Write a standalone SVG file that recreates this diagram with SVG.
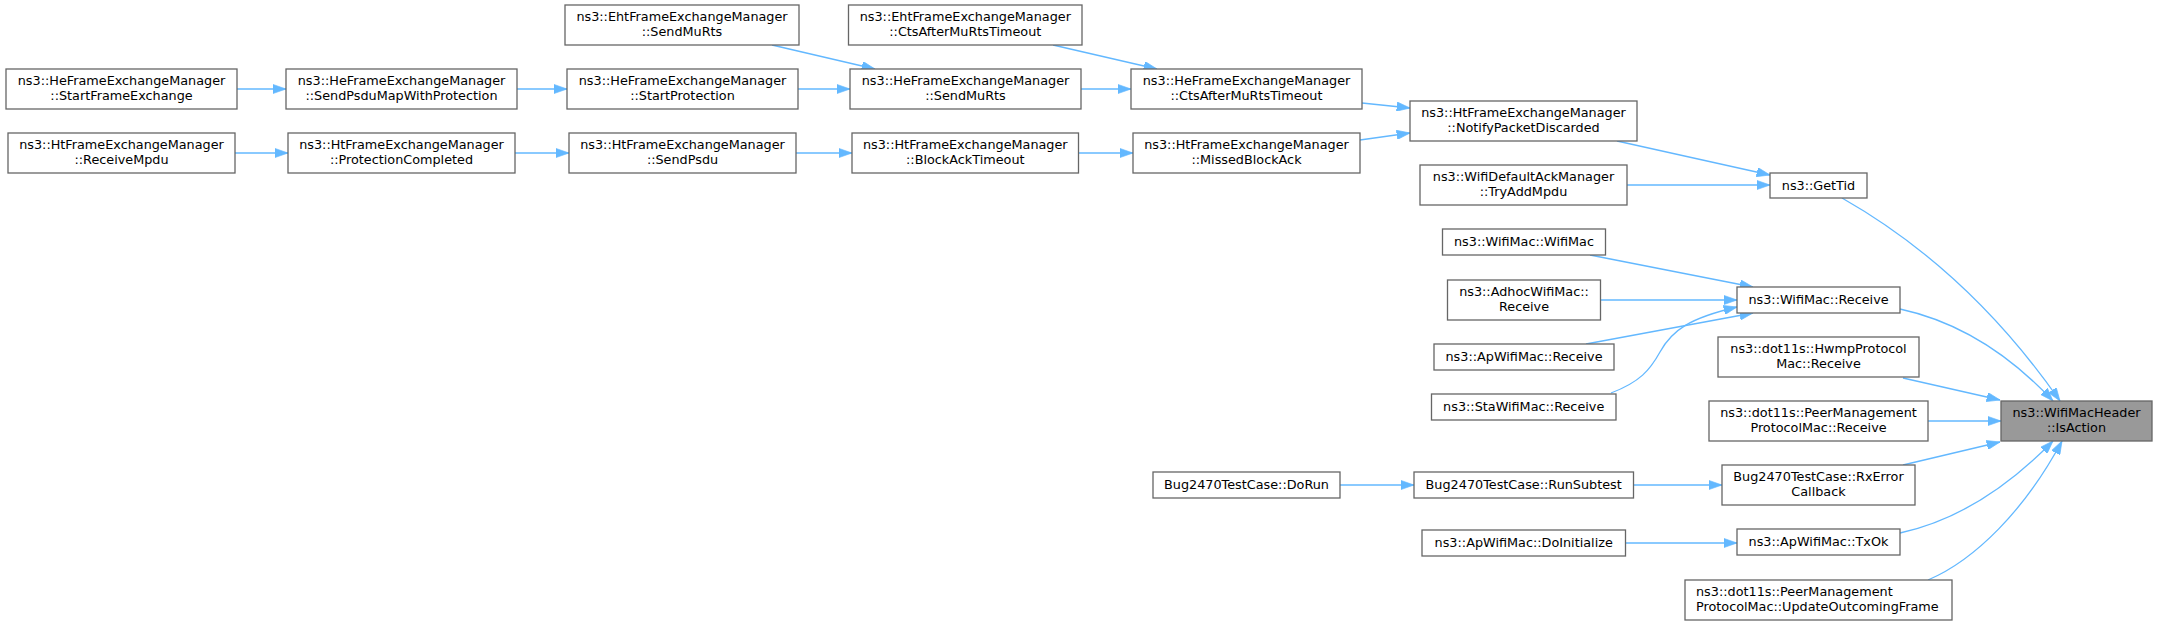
<svg xmlns="http://www.w3.org/2000/svg" width="2157" height="625" viewBox="0 0 2157 625">
<style>
.n rect{fill:#ffffff;stroke:#666666;stroke-width:1.3}
.n text{font-family:"DejaVu Sans","Noto Sans",sans-serif;font-size:12.8px;fill:#000000;text-anchor:middle}
.n text.l{text-anchor:start}
#n_isAction rect{fill:#999999}
.e path{fill:none;stroke:#63b8ff;stroke-width:1.3;marker-end:url(#ah)}
</style>
<defs>
<marker id="ah" viewBox="0 0 10 7" refX="10" refY="3.5" markerUnits="userSpaceOnUse" markerWidth="13.3" markerHeight="9.3" orient="auto">
<path d="M0,0 L10,3.5 L0,7 z" fill="#63b8ff" stroke="#63b8ff" stroke-width="0.5"/>
</marker>
</defs>
<rect width="2157" height="625" fill="#ffffff"/>
<g class="e" id="connectors">
<path d="M237,89 L286,89"/>
<path d="M517,89 L567,89"/>
<path d="M798,89 L850,89"/>
<path d="M772,45 L875,69"/>
<path d="M1081,89 L1131,89"/>
<path d="M1053,45 L1157,69"/>
<path d="M1362,103 L1410,108"/>
<path d="M235,153 L288,153"/>
<path d="M515,153 L569,153"/>
<path d="M796,153 L852,153"/>
<path d="M1078.5,153 L1133,153"/>
<path d="M1360,140 L1410,133"/>
<path d="M1617,141 L1770,175"/>
<path d="M1627,185 L1770,185"/>
<path d="M1842,198 C1930,248 2000,315 2060,401"/>
<path d="M1590,255 L1753,287"/>
<path d="M1600,300 L1737,300"/>
<path d="M1586,344 L1753,313"/>
<path d="M1611,393 C1640,382 1650,370 1660,352 C1672,330 1690,318 1737,307"/>
<path d="M1900,309 C1960,322 2010,355 2053,401"/>
<path d="M1903,378 L2000,400"/>
<path d="M1928,421 L2001,421"/>
<path d="M1903,465 L2000,442"/>
<path d="M1900,533 C1960,520 2010,485 2053,441"/>
<path d="M1928,580 C1975,560 2025,510 2062,441"/>
<path d="M1340,485 L1414,485"/>
<path d="M1633.5,485 L1722,485"/>
<path d="M1625.5,543 L1737,543"/>
</g>
<g class="n" id="n_startFrameExchange"><rect x="6" y="69" width="231" height="40"/><text x="121.5" y="85">ns3::HeFrameExchangeManager</text><text x="121.5" y="100">::StartFrameExchange</text></g>
<g class="n" id="n_sendPsduMap"><rect x="286" y="69" width="231" height="40"/><text x="401.5" y="85">ns3::HeFrameExchangeManager</text><text x="401.5" y="100">::SendPsduMapWithProtection</text></g>
<g class="n" id="n_receiveMpdu"><rect x="8" y="133" width="227" height="40"/><text x="121.5" y="149">ns3::HtFrameExchangeManager</text><text x="121.5" y="164">::ReceiveMpdu</text></g>
<g class="n" id="n_protectionCompleted"><rect x="288" y="133" width="227" height="40"/><text x="401.5" y="149">ns3::HtFrameExchangeManager</text><text x="401.5" y="164">::ProtectionCompleted</text></g>
<g class="n" id="n_ehtSendMuRts"><rect x="565" y="5" width="234" height="40"/><text x="682" y="21">ns3::EhtFrameExchangeManager</text><text x="682" y="36">::SendMuRts</text></g>
<g class="n" id="n_ehtCtsAfter"><rect x="848.5" y="5" width="233.5" height="40"/><text x="965.3" y="21">ns3::EhtFrameExchangeManager</text><text x="965.3" y="36">::CtsAfterMuRtsTimeout</text></g>
<g class="n" id="n_startProtection"><rect x="567" y="69" width="231" height="40"/><text x="682.5" y="85">ns3::HeFrameExchangeManager</text><text x="682.5" y="100">::StartProtection</text></g>
<g class="n" id="n_heSendMuRts"><rect x="850" y="69" width="231" height="40"/><text x="965.5" y="85">ns3::HeFrameExchangeManager</text><text x="965.5" y="100">::SendMuRts</text></g>
<g class="n" id="n_htSendPsdu"><rect x="569" y="133" width="227" height="40"/><text x="682.5" y="149">ns3::HtFrameExchangeManager</text><text x="682.5" y="164">::SendPsdu</text></g>
<g class="n" id="n_blockAckTimeout"><rect x="852" y="133" width="226.5" height="40"/><text x="965.3" y="149">ns3::HtFrameExchangeManager</text><text x="965.3" y="164">::BlockAckTimeout</text></g>
<g class="n" id="n_heCtsAfter"><rect x="1131" y="69" width="231" height="40"/><text x="1246.5" y="85">ns3::HeFrameExchangeManager</text><text x="1246.5" y="100">::CtsAfterMuRtsTimeout</text></g>
<g class="n" id="n_missedBlockAck"><rect x="1133" y="133" width="227" height="40"/><text x="1246.5" y="149">ns3::HtFrameExchangeManager</text><text x="1246.5" y="164">::MissedBlockAck</text></g>
<g class="n" id="n_notifyPacketDiscarded"><rect x="1410" y="101" width="227" height="40"/><text x="1523.5" y="117">ns3::HtFrameExchangeManager</text><text x="1523.5" y="132">::NotifyPacketDiscarded</text></g>
<g class="n" id="n_tryAddMpdu"><rect x="1420" y="165" width="207" height="40"/><text x="1523.5" y="181">ns3::WifiDefaultAckManager</text><text x="1523.5" y="196">::TryAddMpdu</text></g>
<g class="n" id="n_wifiMacWifiMac"><rect x="1442.5" y="229" width="163" height="26"/><text x="1524" y="246">ns3::WifiMac::WifiMac</text></g>
<g class="n" id="n_adhocReceive"><rect x="1447.5" y="280" width="153" height="40"/><text x="1524" y="296">ns3::AdhocWifiMac::</text><text x="1524" y="311">Receive</text></g>
<g class="n" id="n_apReceive"><rect x="1434" y="344" width="180" height="26"/><text x="1524" y="361">ns3::ApWifiMac::Receive</text></g>
<g class="n" id="n_staReceive"><rect x="1431.5" y="394" width="184.5" height="26"/><text x="1523.7" y="411">ns3::StaWifiMac::Receive</text></g>
<g class="n" id="n_doRun"><rect x="1153" y="472" width="187" height="26"/><text x="1246.5" y="489">Bug2470TestCase::DoRun</text></g>
<g class="n" id="n_runSubtest"><rect x="1414" y="472" width="219.5" height="26"/><text x="1523.7" y="489">Bug2470TestCase::RunSubtest</text></g>
<g class="n" id="n_doInitialize"><rect x="1422" y="530" width="203.5" height="26"/><text x="1523.7" y="547">ns3::ApWifiMac::DoInitialize</text></g>
<g class="n" id="n_getTid"><rect x="1770" y="173" width="97" height="25"/><text x="1818.5" y="190">ns3::GetTid</text></g>
<g class="n" id="n_wifiMacReceive"><rect x="1737" y="287" width="163" height="26"/><text x="1818.5" y="304">ns3::WifiMac::Receive</text></g>
<g class="n" id="n_hwmpReceive"><rect x="1718" y="337" width="201" height="40"/><text x="1818.5" y="353">ns3::dot11s::HwmpProtocol</text><text x="1818.5" y="368">Mac::Receive</text></g>
<g class="n" id="n_pmpmReceive"><rect x="1709" y="401" width="219" height="40"/><text x="1818.5" y="417">ns3::dot11s::PeerManagement</text><text x="1818.5" y="432">ProtocolMac::Receive</text></g>
<g class="n" id="n_rxErrorCallback"><rect x="1722" y="465" width="193" height="40"/><text x="1818.5" y="481">Bug2470TestCase::RxError</text><text x="1818.5" y="496">Callback</text></g>
<g class="n" id="n_txOk"><rect x="1737" y="529" width="163" height="26"/><text x="1818.5" y="546">ns3::ApWifiMac::TxOk</text></g>
<g class="n" id="n_updateOutcomingFrame"><rect x="1685" y="580" width="267" height="40"/><text class="l" x="1696" y="596">ns3::dot11s::PeerManagement</text><text class="l" x="1696" y="611">ProtocolMac::UpdateOutcomingFrame</text></g>
<g class="n" id="n_isAction"><rect x="2001" y="401" width="151" height="40"/><text x="2076.5" y="417">ns3::WifiMacHeader</text><text x="2076.5" y="432">::IsAction</text></g>
</svg>
